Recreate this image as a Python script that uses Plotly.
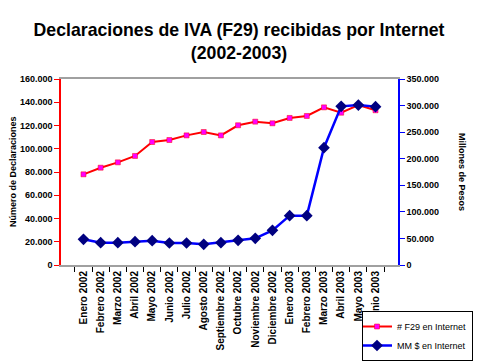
import plotly.graph_objects as go

meses = ["Enero 2002", "Febrero 2002", "Marzo 2002", "Abril 2002", "Mayo 2002", "Junio 2002",
         "Julio 2002", "Agosto 2002", "Septiembre 2002", "Octubre 2002", "Noviembre 2002",
         "Diciembre 2002", "Enero 2003", "Febrero 2003", "Marzo 2003", "Abril 2003",
         "Mayo 2003", "Junio 2003"]
f29_internet = [78000, 83700, 88300, 93800, 105800, 107500, 111500, 114400, 111500, 120200,
                123300, 121900, 126500, 128200, 135600, 131000, 137600, 133100]
mm_pesos = [48400, 42000, 42000, 43900, 45800, 41400, 41400, 38900, 42000, 46400,
            50200, 65200, 92900, 92900, 220800, 298600, 301000, 298000]

FONT = "Liberation Sans, Arial, sans-serif"

fig = go.Figure()
fig.add_trace(go.Scatter(
    x=meses, y=f29_internet, name="# F29 en Internet", mode="lines+markers",
    line=dict(color="#FF0000", width=2),
    marker=dict(symbol="square", size=5, color="#FF00FF", line=dict(color="#FF0000", width=0.5)),
    yaxis="y"))
fig.add_trace(go.Scatter(
    x=meses, y=mm_pesos, name="MM $ en Internet", mode="lines+markers",
    line=dict(color="#0000FF", width=2.5),
    marker=dict(symbol="diamond", size=9, color="#000080"),
    yaxis="y2"))

plot_w = 478 - 61 - 80
plot_h = 361 - 79 - 96

fig.update_layout(
    width=478, height=361,
    margin=dict(l=61, r=80, t=79, b=96, autoexpand=False),
    paper_bgcolor="white", plot_bgcolor="white",
    separators=",.",
    showlegend=True,
    font=dict(family=FONT, color="black"),
    title=dict(text="<b>Declaraciones de IVA (F29) recibidas por Internet<br>(2002-2003)</b>",
               x=0.5, xref="container", xanchor="center",
               y=1 - 36 / 361, yref="container", yanchor="middle",
               font=dict(family=FONT, size=17.7, color="black")),
    xaxis=dict(
        type="category", showline=True, linecolor="#A0A0A0", linewidth=2, mirror=True,
        showgrid=False, zeroline=False, automargin=False,
        ticks="outside", tickson="boundaries", ticklen=5, tickcolor="black",
        tickangle=-90, tickfont=dict(family=FONT, size=10, color="black"),
        tickprefix="<b>", ticksuffix="</b>", fixedrange=True),
    yaxis=dict(
        range=[0, 160000], dtick=20000, tickformat=",d", automargin=False,
        showline=True, linecolor="#FF0000", linewidth=1.5,
        showgrid=False, zeroline=False,
        ticks="outside", ticklen=5, tickcolor="#FF0000",
        tickfont=dict(family=FONT, size=9, color="black"),
        tickprefix="<b>", ticksuffix="</b>"),
    yaxis2=dict(
        range=[0, 350000], dtick=50000, tickformat=",d", automargin=False,
        overlaying="y", side="right", anchor="x",
        showline=True, linecolor="#0000FF", linewidth=1.5,
        showgrid=False, zeroline=False,
        ticks="outside", ticklen=5, tickcolor="#0000FF",
        tickfont=dict(family=FONT, size=9, color="black"),
        tickprefix="<b>", ticksuffix="</b>"),
    legend=dict(
        x=(362 - 61) / plot_w, y=(265 - 311) / plot_h, xanchor="left", yanchor="top",
        bordercolor="black", borderwidth=1, bgcolor="white",
        font=dict(family=FONT, size=9, color="black"),
        tracegroupgap=0, itemwidth=30, indentation=-6),
    annotations=[
        dict(text="<b>Número de Declaraciones</b>", textangle=-90,
             x=(6 - 61) / plot_w, xref="paper", y=0.5, yref="paper", showarrow=False,
             font=dict(family=FONT, size=9, color="black")),
        dict(text="<b>Millones de Pesos</b>", textangle=90,
             x=(469 - 61) / plot_w, xref="paper", y=0.5, yref="paper", showarrow=False,
             font=dict(family=FONT, size=9, color="black")),
    ],
)

fig.write_html("out.html", config={"displayModeBar": False},
               post_script="document.body.style.margin='0';document.body.style.overflow='hidden';")
